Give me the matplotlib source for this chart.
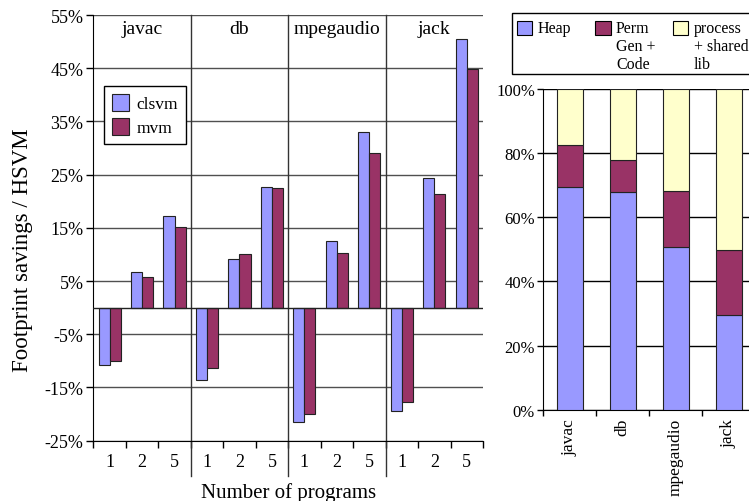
import matplotlib
matplotlib.use("Agg")
import matplotlib.pyplot as plt
from matplotlib.patches import Rectangle
import numpy as np

plt.rcParams['font.family'] = ['Liberation Serif', 'DejaVu Serif']

# left chart: footprint savings relative to HSVM
benchmarks = ['javac', 'db', 'mpegaudio', 'jack']
nprogs = ['1', '2', '5']
clsvm = [-10.7, 6.7, 17.3, -13.5, 9.2, 22.7, -21.4, 12.6, 33.1, -19.4, 24.3, 50.4]
mvm = [-10.0, 5.8, 15.2, -11.4, 10.0, 22.5, -19.9, 10.3, 29.1, -17.8, 21.3, 44.8]

# right chart: footprint breakdown (percent)
heap = [69.4, 67.8, 50.6, 29.4]
permgen = [13.1, 10.0, 17.5, 20.4]
process = [17.5, 22.2, 31.9, 50.2]

BLUE = '#9999ff'
PLUM = '#993366'
CREAM = '#ffffcc'

fig = plt.figure(figsize=(7.49, 5.02), dpi=100)

# ---------------- left chart
ax = fig.add_axes([0.1246, 0.1201, 0.5203, 0.848])
x = np.arange(len(clsvm))
w = 0.34
ax.bar(x - w / 2, clsvm, w, color=BLUE, edgecolor='#222222', linewidth=0.8, label='clsvm', zorder=3)
ax.bar(x + w / 2, mvm, w, color=PLUM, edgecolor='#222222', linewidth=0.8, label='mvm', zorder=3)
ax.set_xlim(-0.5, len(x) - 0.5)
ax.set_ylim(-25, 55)
yt = np.arange(-25, 56, 10)
ax.set_yticks(yt)
ax.set_yticklabels(['%d%%' % v for v in yt], fontsize=13)
for v in yt:
    ax.axhline(v, color='#505050', linewidth=1, zorder=1)
ax.axhline(0, color='#222222', linewidth=1, zorder=4)
ax.set_xticks(x)
ax.set_xticklabels(nprogs * len(benchmarks), fontsize=13)
ax.set_xticks(np.arange(-0.5, len(x), 1), minor=True)
ax.tick_params(axis='x', which='major', length=0, pad=9)
ax.tick_params(axis='x', which='minor', length=5, width=1)
ax.tick_params(axis='y', length=5, width=1, pad=2)
for s in ['top', 'right']:
    ax.spines[s].set_visible(False)
for i in range(1, len(benchmarks)):
    ax.axvline(3 * i - 0.5, ymin=-0.083, ymax=1, color='#333333', linewidth=1, clip_on=False, zorder=2)
for i, b in enumerate(benchmarks):
    ax.text(3 * i + 1, 52.4, b, ha='center', va='center', fontsize=14)
ax.set_ylabel('Footprint savings / HSVM', fontsize=16.5, va='center')
ax.yaxis.set_label_coords(-0.183, 0.45)
ax.set_xlabel('Number of programs', fontsize=15, va='center')
ax.xaxis.set_label_coords(0.5, -0.12)
leg = ax.legend(loc='upper left', bbox_to_anchor=(0.028, 0.833), borderaxespad=0, fontsize=12.5,
                frameon=True, fancybox=False, edgecolor='black', framealpha=1, handlelength=1.0,
                handleheight=1.1, handletextpad=0.4, borderpad=0.45, labelspacing=0.35)
leg.get_frame().set_linewidth(1)

# ---------------- right chart
ax2 = fig.add_axes([0.7254, 0.1819, 0.283, 0.6388])
xr = np.arange(len(benchmarks))
bw = 0.49
ax2.bar(xr, heap, bw, color=BLUE, edgecolor='#222222', linewidth=0.8, zorder=3)
ax2.bar(xr, permgen, bw, bottom=heap, color=PLUM, edgecolor='#222222', linewidth=0.8, zorder=3)
bot = np.array(heap) + np.array(permgen)
ax2.bar(xr, process, bw, bottom=bot, color=CREAM, edgecolor='#222222', linewidth=0.8, zorder=3)
ax2.set_xlim(-0.5, len(xr) - 0.5)
ax2.set_ylim(0, 100)
yt2 = np.arange(0, 101, 20)
ax2.set_yticks(yt2)
ax2.set_yticklabels(['%d%%' % v for v in yt2], fontsize=12)
for v in yt2:
    ax2.axhline(v, color='black', linewidth=1, zorder=1)
ax2.set_xticks(xr)
ax2.set_xticklabels(benchmarks, rotation=90, fontsize=12.5)
ax2.set_xticks(np.arange(-0.5, len(xr), 1), minor=True)
ax2.tick_params(axis='x', which='major', length=0, pad=6)
ax2.tick_params(axis='x', which='minor', length=4, width=1)
ax2.tick_params(axis='y', length=4, width=1, pad=2)
for s in ['top', 'right']:
    ax2.spines[s].set_visible(False)

# legend box above the right chart
W, H = 749.0, 502.0
fig.patches.append(Rectangle((512 / W, 1 - 75 / H), 240 / W, 61 / H, transform=fig.transFigure,
                             facecolor='white', edgecolor='black', linewidth=1))
entries = [(BLUE, 'Heap', 516.7), (PLUM, 'Perm\nGen +\nCode', 595), (CREAM, 'process\n+ shared\nlib', 672.7)]
for col, lab, px in entries:
    fig.patches.append(Rectangle((px / W, 1 - 36 / H), 15.5 / W, 14.5 / H, transform=fig.transFigure,
                                 facecolor=col, edgecolor='black', linewidth=0.8))
    fig.text((px + 21) / W, 1 - 21 / H, lab, ha='left', va='top', fontsize=11.5, linespacing=1.17)

fig.savefig('out.png', dpi=100)
